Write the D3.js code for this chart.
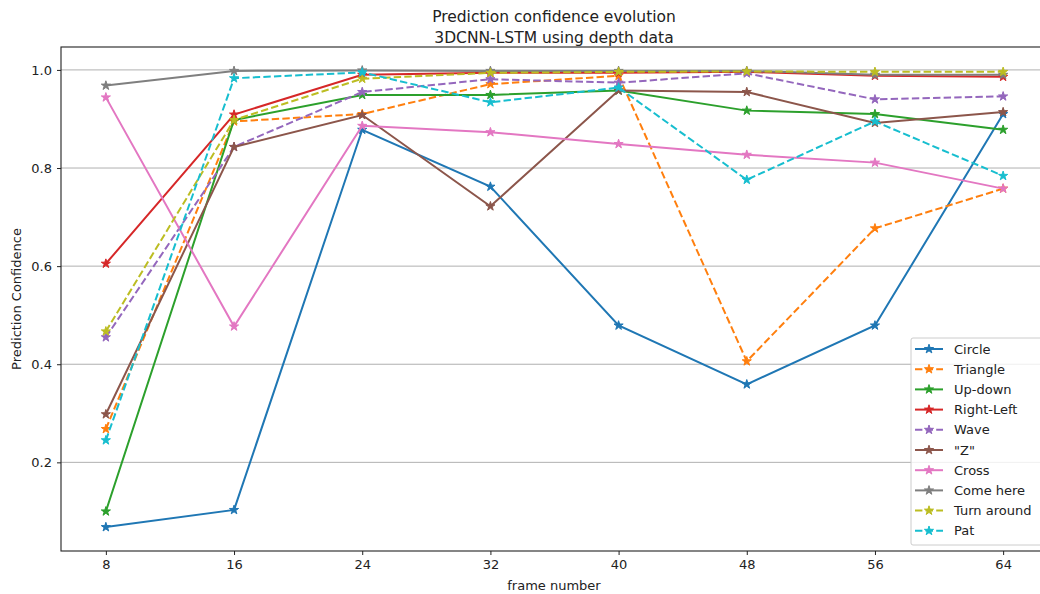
<!DOCTYPE html>
<html><head><meta charset="utf-8">
<script src="https://cdn.jsdelivr.net/npm/d3@7"></script>
<style>
body{margin:0;background:#fff;}
svg{display:block;font-family:"DejaVu Sans",sans-serif;}
</style></head>
<body><svg id="c" width="1040" height="594"></svg>
<script>
const frames = [8,16,24,32,40,48,56,64];
const seriesNames = ["Circle","Triangle","Up-down","Right-Left","Wave","\"Z\"","Cross","Come here","Turn around","Pat"];
const circle    = [0.068,0.103,0.878,0.762,0.479,0.359,0.479,0.910];
const triangle  = [0.268,0.895,0.910,0.971,0.988,0.406,0.677,0.758];
const upDown    = [0.100,0.898,0.949,0.949,0.958,0.917,0.910,0.878];
const rightLeft = [0.605,0.909,0.990,0.994,0.994,0.996,0.988,0.986];
const wave      = [0.455,0.843,0.955,0.981,0.974,0.993,0.940,0.946];
const zGesture  = [0.298,0.843,0.908,0.722,0.958,0.955,0.892,0.914];
const cross     = [0.944,0.477,0.886,0.873,0.849,0.827,0.811,0.758];
const comeHere  = [0.968,0.998,0.999,0.998,0.998,0.998,0.990,0.990];
const turnAround= [0.467,0.898,0.982,0.994,0.996,0.997,0.996,0.996];
const pat       = [0.245,0.983,0.995,0.934,0.964,0.776,0.895,0.784];
const yTicks = [0.2,0.4,0.6,0.8,1.0];

const allValues = [circle,triangle,upDown,rightLeft,wave,zGesture,cross,comeHere,turnAround,pat];
const colors = ["#1f77b4","#ff7f0e","#2ca02c","#d62728","#9467bd","#8c564b","#e377c2","#7f7f7f","#bcbd22","#17becf"];
const dashed = [false,true,false,false,true,false,false,false,true,true];

const svg = d3.select("#c");
const L=61, T=47, R=1048, B=551;
const x = d3.scaleLinear().domain([5.2,66.8]).range([L,R]);
const y = d3.scaleLinear().domain([0.0193,1.0467]).range([B,T]);

// grid
svg.append("g").selectAll("line").data(yTicks).join("line")
  .attr("x1",L).attr("x2",R).attr("y1",d=>y(d)).attr("y2",d=>y(d))
  .attr("stroke","#b0b0b0").attr("stroke-width",1);

const star = d3.symbol().type(d3.symbolStar).size(26);
const lineGen = d3.line().x((d,i)=>x(frames[i])).y(d=>y(d));
const plot = svg.append("g");
allValues.forEach((vals,k)=>{
  const g = plot.append("g");
  g.append("path").attr("d",lineGen(vals)).attr("fill","none")
   .attr("stroke",colors[k]).attr("stroke-width",2)
   .attr("stroke-dasharray",dashed[k]?"7.4,3.2":null);
  g.selectAll("path.m").data(vals).join("path").attr("class","m")
   .attr("d",star).attr("transform",(d,i)=>`translate(${x(frames[i])},${y(d)})`)
   .attr("fill",colors[k]).attr("stroke",colors[k]).attr("stroke-width",1);
});

// axes
const xAxis = d3.axisBottom(x).tickValues(frames).tickSize(4).tickPadding(5).tickFormat(d3.format("d"));
const yAxis = d3.axisLeft(y).tickValues(yTicks).tickSize(4).tickPadding(5).tickFormat(d3.format(".1f"));
const gx = svg.append("g").attr("transform",`translate(0,${B})`).call(xAxis);
const gy = svg.append("g").attr("transform",`translate(${L},0)`).call(yAxis);
[gx,gy].forEach(g=>{
  g.select(".domain").remove();
  g.selectAll("text").attr("font-size",13).attr("fill","#222").attr("font-family","DejaVu Sans");
  g.selectAll("line").attr("stroke","#222");
});
// spines
svg.append("rect").attr("x",L).attr("y",T).attr("width",R-L).attr("height",B-T)
  .attr("fill","none").attr("stroke","#222").attr("stroke-width",1.1);

// labels
svg.append("text").attr("x",554).attr("y",590).attr("text-anchor","middle").attr("font-size",13).attr("fill","#222").text("frame number");
svg.append("text").attr("transform","translate(21,299) rotate(-90)").attr("text-anchor","middle").attr("font-size",13).attr("fill","#222").text("Prediction Confidence");
svg.append("text").attr("x",554).attr("y",22).attr("text-anchor","middle").attr("font-size",15.5).attr("fill","#222").text("Prediction confidence evolution");
svg.append("text").attr("x",554).attr("y",43).attr("text-anchor","middle").attr("font-size",15.5).attr("fill","#222").text("3DCNN-LSTM using depth data");

// legend
const lg = svg.append("g").attr("transform","translate(911,338)");
lg.append("rect").attr("x",0).attr("y",0).attr("width",140).attr("height",207).attr("rx",2)
  .attr("fill","#fff").attr("fill-opacity",0.8).attr("stroke","#ccc");
seriesNames.forEach((n,k)=>{
  const yy = 11 + k*20.2;
  lg.append("line").attr("x1",4).attr("x2",32).attr("y1",yy).attr("y2",yy)
    .attr("stroke",colors[k]).attr("stroke-width",2).attr("stroke-dasharray",dashed[k]?"7.4,3.2":null);
  lg.append("path").attr("d",star).attr("transform",`translate(18,${yy})`).attr("fill",colors[k]).attr("stroke",colors[k]);
  lg.append("text").attr("x",43).attr("y",yy+4.5).attr("font-size",13).attr("fill","#222").text(n);
});
</script></body></html>
